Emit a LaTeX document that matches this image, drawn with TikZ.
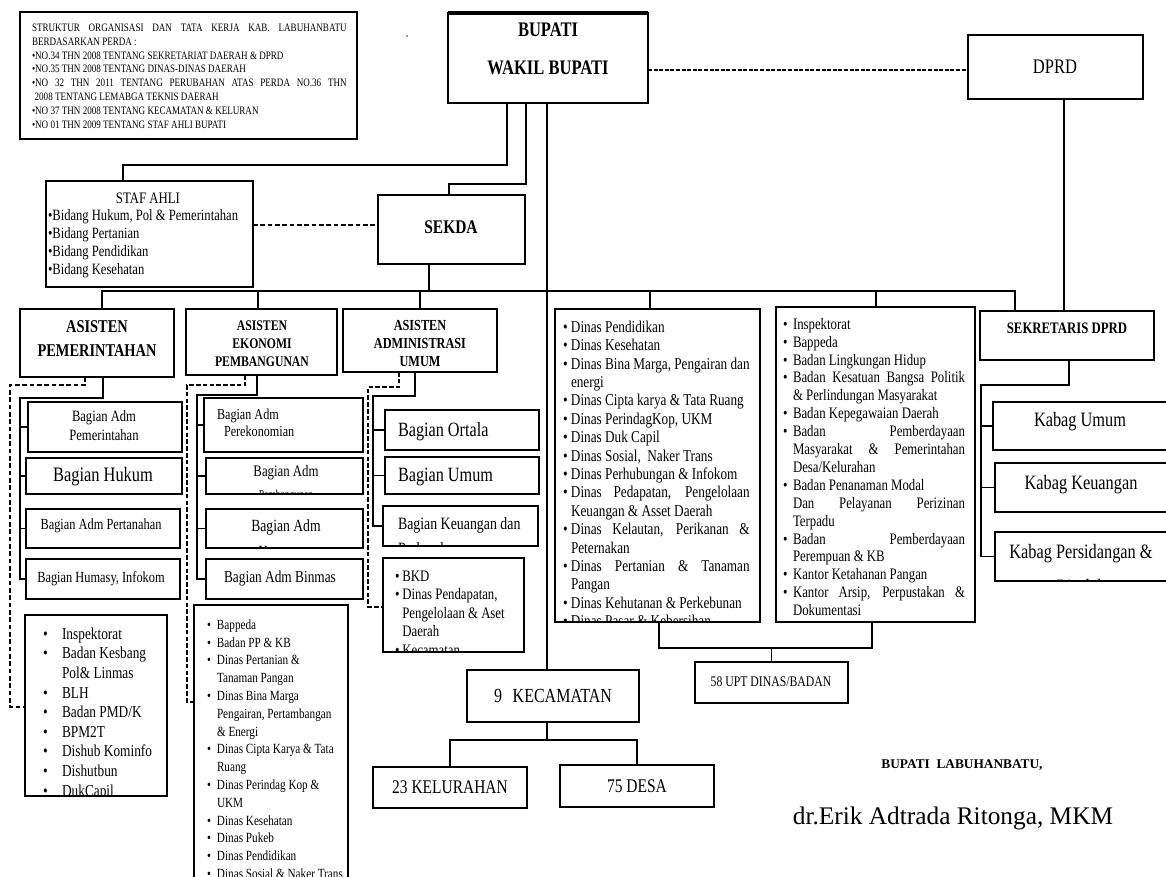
\documentclass[tikz,border=0pt]{standalone}
\usepackage{fontspec}
\setmainfont{Liberation Serif}
\newfontfamily\cond[FakeStretch=0.8]{Liberation Serif}
\newcommand\fs[2]{\fontsize{#1}{#2}\selectfont}
\newlength\lind
\newlength\lwd
\newcommand\bi[1]{\makebox[\lind][l]{•}#1}
\newcommand\ci[1]{\hspace*{\lind}#1}
\newcommand\js[1]{\makebox[\lwd][s]{#1}}
\newcommand\bxx[5]{\node[bx, minimum width={(#4-#2)*0.75pt}, minimum height={(#5-#3)*0.75pt}] (#1) at (#2,#3) {};}
\newcommand\lstn[6]{\foreach \ltxt [count=\ii from 0] in {#6} {\node[lst, font={#5}] (#1\ii) at (#2,{#3+\ii*#4}) {\ltxt};}}
\begin{document}
\begin{tikzpicture}[x=0.75pt,y=-0.75pt,
  bx/.style={draw, line width=1pt, inner sep=0pt, outer sep=0pt, anchor=north west},
  ln/.style={line width=1pt},
  dsh/.style={line width=1pt, dash pattern=on 3.5pt off 2pt},
  dshb/.style={line width=1.7pt, dash pattern=on 3.5pt off 1.6pt},
  dotln/.style={line width=2pt, dash pattern=on 3pt off 1.2pt},
  lbl/.style={inner sep=0pt, outer sep=0pt, anchor=mid, yshift=-2.4pt},
  lst/.style={inner sep=0pt, outer sep=0pt, anchor=mid west, yshift=-2.4pt},
]
\path[use as bounding box, fill=white] (0,0) rectangle (1166,877);

% ---------- boxes ----------
\bxx{legend}{20}{12}{357}{139}
\bxx{bupati}{448}{13}{648}{103}
\bxx{dprd}{968}{35}{1143}{99}
\bxx{staf}{46}{181}{253}{287}
\bxx{sekda}{378}{195}{525}{264}
\bxx{asp}{20}{309}{174}{377}
\bxx{asek}{186}{309}{337}{375}
\bxx{aadm}{343}{309}{497}{372}
\bxx{dinas}{555}{309}{760}{622}
\bxx{badan}{776}{307}{975}{622}
\bxx{sekdprd}{980}{311}{1154}{360}
\bxx{bap}{28}{402}{182}{452}
\bxx{bhk}{26}{458}{182}{494}
\bxx{bpt}{26}{509}{180}{548}
\bxx{bhum}{26}{559}{180}{599}
\bxx{bpk}{204}{398}{363}{452}
\bxx{bpb}{206}{458}{363}{494}
\bxx{bku}{206}{509}{363}{548}
\bxx{bbin}{206}{559}{363}{599}
\bxx{bort}{385}{410}{539}{450}
\bxx{bumu}{385}{457}{539}{494}
\bxx{bkeu}{383}{506}{538}{546}
\bxx{bkd}{383}{558}{524}{652}
\bxx{lsta}{25}{615}{167}{796}
\bxx{lstb}{194}{605}{348}{900}
\bxx{kumum}{993}{402}{1175}{450}
\bxx{kkeu}{995}{463}{1175}{512}
\bxx{kper}{995}{532}{1175}{581}
\bxx{upt}{695}{662}{848}{703}
\bxx{kec}{467}{670}{639}{722}
\bxx{kel}{373}{767}{527}{808}
\bxx{desa}{560}{765}{714}{807}
\draw[line width=2.4pt] (bupati.north west) -- (bupati.north east);
\fill[gray] (407,36) circle[radius=1.2];

% ---------- connectors ----------
\coordinate (a1) at (507,165); \coordinate (a2) at (123,165);
\draw[ln] (bupati.south -| a1) -- (a1) -- (a2) -- (staf.north -| a2);
\coordinate (b1) at (526,184); \coordinate (b2) at (449,184);
\draw[ln] (bupati.south -| b1) -- (b1) -- (b2) -- (sekda.north -| b2);
\coordinate (tr) at (547,0);
\draw[ln] (bupati.south -| tr) -- (kec.north -| tr);
\coordinate (d1) at (0,70);
\draw[dotln] (bupati.east |- d1) -- (dprd.west |- d1);
\coordinate (e1) at (1064,0);
\draw[ln] (dprd.south -| e1) -- (sekdprd.north -| e1);
\coordinate (f1) at (0,225);
\draw[dsh] (staf.east |- f1) -- (sekda.west |- f1);
\coordinate (g1) at (429,291);
\draw[ln] (sekda.south -| g1) -- (g1);
\coordinate (h0) at (102,291); \coordinate (h1) at (1015,291);
\draw[ln] (asp.north -| h0) -- (h0) -- (h1) -- (sekdprd.north -| h1);
\coordinate (hB) at (258,291); \coordinate (hC) at (420,291);
\coordinate (hD) at (650,291); \coordinate (hE) at (876,291);
\draw[ln] (hB) -- (asek.north -| hB);
\draw[ln] (hC) -- (aadm.north -| hC);
\draw[ln] (hD) -- (dinas.north -| hD);
\draw[ln] (hE) -- (badan.north -| hE);
% asisten pemerintahan
\coordinate (p1) at (103,398); \coordinate (p2) at (20,398);
\coordinate (p3) at (p2 |- bhum.west);
\draw[ln] (asp.south -| p1) -- (p1) -- (p2) -- (p3) -- (bhum.west);
\draw[ln] (p2 |- bap.west) -- (bap.west);
\draw[ln] (p2 |- bhk.west) -- (bhk.west);
\draw[ln] (p2 |- bpt.west) -- (bpt.west);
\coordinate (q1) at (85,385); \coordinate (q2) at (10,385); \coordinate (q3) at (10,707);
\draw[dsh] (asp.south -| q1) -- (q1) -- (q2) -- (q3) -- (lsta.west |- q3);
% asisten ekonomi
\coordinate (r1) at (257,395); \coordinate (r2) at (197,395);
\coordinate (r3) at (r2 |- bbin.west);
\draw[ln] (asek.south -| r1) -- (r1) -- (r2) -- (r3) -- (bbin.west);
\draw[ln] (r2 |- bpk.west) -- (bpk.west);
\draw[ln] (r2 |- bpb.west) -- (bpb.west);
\draw[ln] (r2 |- bku.west) -- (bku.west);
\coordinate (s1) at (245,385); \coordinate (s2) at (187,385); \coordinate (s3) at (187,702);
\draw[dshb] (asek.south -| s1) -- (s1) -- (s2) -- (s3) -- (lstb.west |- s3);
% asisten administrasi
\coordinate (u1) at (415,396); \coordinate (u2) at (373,396);
\coordinate (u3) at (u2 |- bkeu.west);
\draw[ln] (aadm.south -| u1) -- (u1) -- (u2) -- (u3) -- (bkeu.west);
\draw[ln] (u2 |- bort.west) -- (bort.west);
\draw[ln] (u2 |- bumu.west) -- (bumu.west);
\coordinate (v1) at (399,387); \coordinate (v2) at (368,387); \coordinate (v3) at (368,607);
\draw[dshb] (aadm.south -| v1) -- (v1) -- (v2) -- (v3) -- (bkd.west |- v3);
% dinas / badan -> UPT
\coordinate (w1) at (659,648); \coordinate (w2) at (872,648);
\draw[ln] (dinas.south -| w1) -- (w1) -- (w2) -- (badan.south -| w2);
\draw[ln] (upt.north) -- (upt.north |- w1);
% kecamatan
\coordinate (kc) at (547,740);
\draw[ln] (kec.south -| tr) -- (kc);
\draw[ln] (kel.north) -- (kel.north |- kc) -- (desa.north |- kc) -- (desa.north);
% sekretaris dprd
\coordinate (x1) at (1069,385); \coordinate (x2) at (981,385);
\coordinate (x3) at (x2 |- kper.west);
\draw[ln] (sekdprd.south -| x1) -- (x1) -- (x2) -- (x3) -- (kper.west);
\draw[ln] (x2 |- kumum.west) -- (kumum.west);
\draw[ln] (x2 |- kkeu.west) -- (kkeu.west);

% ---------- texts ----------
\lstn{lg}{32}{25}{13.9}{\cond\fs{8.5}{10}\setlength\lwd{236pt}}{%
 {\js{STRUKTUR ORGANISASI DAN TATA KERJA KAB. LABUHANBATU}},%
 {BERDASARKAN PERDA :},%
 {•NO.34 THN 2008 TENTANG SEKRETARIAT DAERAH \& DPRD},%
 {•NO.35 THN 2008 TENTANG DINAS-DINAS DAERAH},%
 {\js{•NO 32 THN 2011 TENTANG PERUBAHAN ATAS PERDA NO.36 THN}},%
 {\hspace*{2pt}2008 TENTANG LEMABGA TEKNIS DAERAH},%
 {•NO 37 THN 2008 TENTANG KECAMATAN \& KELURAN},%
 {•NO 01 THN 2009 TENTANG STAF AHLI BUPATI}}

\node[lbl, font=\cond\bfseries\fs{15.5}{18}] (tBup) at (548,30) {BUPATI};
\node[lbl, font=\cond\bfseries\fs{15.5}{18}] (tWak) at (548,68) {WAKIL BUPATI};
\node[lbl, font=\cond\fs{15.5}{18}] (tDprd) at (1055,67) {DPRD};
\node[lbl, font=\cond\fs{12}{14}] (tStaf) at (148,197) {STAF AHLI};
\lstn{sa}{48}{214.5}{17.9}{\cond\fs{11.8}{14}}{%
 {•Bidang Hukum, Pol \& Pemerintahan},{•Bidang Pertanian},{•Bidang Pendidikan},{•Bidang Kesehatan}}
\node[lbl, font=\cond\bfseries\fs{14.5}{17}] (tSek) at (451,227) {SEKDA};

\node[lbl, font=\cond\bfseries\fs{13.5}{16}] (tAp1) at (97,326) {ASISTEN};
\node[lbl, font=\cond\bfseries\fs{13.5}{16}] (tAp2) at (97,350) {PEMERINTAHAN};
\node[lbl, font=\cond\bfseries\fs{11}{13}] (tAe1) at (262,324) {ASISTEN};
\node[lbl, font=\cond\bfseries\fs{11}{13}] (tAe2) at (262,342) {EKONOMI};
\node[lbl, font=\cond\bfseries\fs{11}{13}] (tAe3) at (262,360) {PEMBANGUNAN};
\node[lbl, font=\cond\bfseries\fs{11.5}{13}] (tAa1) at (420,324) {ASISTEN};
\node[lbl, font=\cond\bfseries\fs{11.5}{13}] (tAa2) at (420,342) {ADMINISTRASI};
\node[lbl, font=\cond\bfseries\fs{11.5}{13}] (tAa3) at (420,360) {UMUM};
\node[lbl, font=\cond\bfseries\fs{12}{14}] (tSd) at (1067,327) {SEKRETARIS DPRD};

% pemerintahan bagian
\node[lbl, font=\cond\fs{11.8}{14}] (tBap1) at (104,415) {Bagian Adm};
\node[lbl, font=\cond\fs{11.8}{14}] (tBap2) at (104,434) {Pemerintahan};
\node[lbl, font=\cond\fs{15.4}{18}] (tBhk) at (103,475) {Bagian Hukum};
\node[lbl, font=\cond\fs{11.6}{14}] (tBpt) at (101,523) {Bagian Adm Pertanahan};
\node[lbl, font=\cond\fs{11.6}{14}] (tBhum) at (101,576) {Bagian Humasy, Infokom};

% ekonomi bagian
\node[lst, font=\cond\fs{11.4}{14}] (tBpk1) at (217,413) {Bagian Adm};
\node[lst, font=\cond\fs{11.4}{14}] (tBpk2) at (224,430) {Perekonomian};
\node[lbl, font=\cond\fs{12}{14}] (tBpb1) at (286,470) {Bagian Adm};
\begin{scope}
\clip (bpb.north west) rectangle (bpb.south east);
\node[lbl, font=\cond\fs{9}{11}] (tBpb2) at (286,492) {Pembangunan};
\end{scope}
\node[lbl, font=\cond\fs{12.8}{15}] (tBku1) at (286,525) {Bagian Adm};
\begin{scope}
\clip (bku.north west) rectangle (bku.south east);
\node[lbl, font=\cond\fs{12.8}{15}] (tBku2) at (286,551) {Keuangan};
\end{scope}
\node[lbl, font=\cond\fs{12.5}{15}] (tBbin) at (280,576) {Bagian Adm Binmas};

% administrasi bagian
\node[lst, font=\cond\fs{15.2}{18}] (tBort) at (398,430) {Bagian Ortala};
\node[lst, font=\cond\fs{15.2}{18}] (tBumu) at (398,475) {Bagian Umum};
\node[lst, font=\cond\fs{13}{15}] (tBkeu1) at (398,523) {Bagian Keuangan dan};
\begin{scope}
\clip (bkeu.north west) rectangle (bkeu.south east);
\node[lst, font=\cond\fs{13}{15}] (tBkeu2) at (398,548) {Perlengkapan};
\end{scope}
\begin{scope}
\clip (bkd.north west) rectangle (bkd.south east);
\lstn{bk}{395}{575}{18.5}{\cond\fs{12}{14}\setlength\lind{5.5pt}}{%
 {\bi{BKD}},{\bi{Dinas Pendapatan,}},{\ci{Pengelolaan \& Aset}},{\ci{Daerah}},{\bi{Kecamatan}}}
\end{scope}

% list 1
\begin{scope}
\clip (lsta.north west) rectangle (lsta.south east);
\lstn{la}{43}{633}{19.6}{\cond\fs{12.5}{15}\setlength\lind{14.3pt}}{%
 {\bi{Inspektorat}},{\bi{Badan Kesbang}},{\ci{Pol\& Linmas}},{\bi{BLH}},{\bi{Badan PMD/K}},%
 {\bi{BPM2T}},{\bi{Dishub Kominfo}},{\bi{Dishutbun}},{\bi{DukCapil}}}
\end{scope}

% list 2
\begin{scope}
\clip (lstb.north west) rectangle (lstb.south east);
\lstn{lb}{207}{623}{17.8}{\cond\fs{10.5}{12}\setlength\lind{7.5pt}}{%
 {\bi{Bappeda}},{\bi{Badan PP \& KB}},{\bi{Dinas Pertanian \&}},{\ci{Tanaman Pangan}},%
 {\bi{Dinas Bina Marga}},{\ci{Pengairan, Pertambangan}},{\ci{\& Energi}},%
 {\bi{Dinas Cipta Karya \& Tata}},{\ci{Ruang}},{\bi{Dinas Perindag Kop \&}},{\ci{UKM}},%
 {\bi{Dinas Kesehatan}},{\bi{Dinas Pukeb}},{\bi{Dinas Pendidikan}},{\bi{Dinas Sosial \& Naker Trans}}}
\end{scope}

% dinas list
\begin{scope}
\clip (dinas.north west) rectangle (dinas.south east);
\lstn{ld}{563}{326}{18.4}{\cond\fs{12.4}{14}\setlength\lind{6pt}\setlength\lwd{134pt}}{%
 {\bi{Dinas Pendidikan}},{\bi{Dinas Kesehatan}},{\bi{\js{Dinas Bina Marga, Pengairan dan}}},%
 {\ci{energi}},{\bi{Dinas Cipta karya \& Tata Ruang}},{\bi{Dinas PerindagKop, UKM}},%
 {\bi{Dinas Duk Capil}},{\bi{Dinas Sosial,\ \ Naker Trans}},{\bi{Dinas Perhubungan \& Infokom}},%
 {\bi{\js{Dinas Pedapatan, Pengelolaan}}},{\ci{Keuangan \& Asset Daerah}},%
 {\bi{\js{Dinas Kelautan, Perikanan \&}}},{\ci{Peternakan}},%
 {\bi{\js{Dinas Pertanian \& Tanaman}}},{\ci{Pangan}},%
 {\bi{Dinas Kehutanan \& Perkebunan}},{\bi{Dinas Pasar \& Kebersihan}}}
\end{scope}

% badan list
\lstn{lr}{783}{323}{17.9}{\cond\fs{12}{14}\setlength\lind{7.5pt}\setlength\lwd{129pt}}{%
 {\bi{Inspektorat}},{\bi{Bappeda}},{\bi{Badan Lingkungan Hidup}},%
 {\bi{\js{Badan Kesatuan Bangsa Politik}}},{\ci{\& Perlindungan Masyarakat}},%
 {\bi{Badan Kepegawaian Daerah}},{\bi{\js{Badan Pemberdayaan}}},%
 {\ci{\js{Masyarakat \& Pemerintahan}}},{\ci{Desa/Kelurahan}},%
 {\bi{Badan Penanaman Modal}},{\ci{\js{Dan Pelayanan Perizinan}}},{\ci{Terpadu}},%
 {\bi{\js{Badan Pemberdayaan}}},{\ci{Perempuan \& KB}},{\bi{Kantor Ketahanan Pangan}},%
 {\bi{\js{Kantor Arsip, Perpustakan \&}}},{\ci{Dokumentasi}}}

% kabag
\node[lbl, font=\cond\fs{15.3}{18}] (tKu) at (1080,420) {Kabag Umum};
\node[lbl, font=\cond\fs{15.3}{18}] (tKk) at (1081,483) {Kabag Keuangan};
\begin{scope}
\clip (kper.north west) rectangle (kper.south east);
\node[lbl, font=\cond\fs{15.3}{18}] (tKp1) at (1081,552) {Kabag Persidangan \&};
\node[lbl, font=\cond\fs{15.3}{18}] (tKp2) at (1081,587) {Risalah};
\end{scope}

\node[lbl, font=\cond\fs{11}{13}] (tUpt) at (771,680) {58 UPT DINAS/BADAN};
\node[lbl, font=\cond\fs{15}{18}] (tKec) at (553,696) {9\hspace{8pt}KECAMATAN};
\node[lbl, font=\cond\fs{14.5}{17}] (tKel) at (450,787) {23 KELURAHAN};
\node[lbl, font=\cond\fs{14.5}{17}] (tDesa) at (637,786) {75 DESA};

\node[lbl, font=\bfseries\fs{10}{12}] (sig1) at (962,762) {BUPATI\ \ LABUHANBATU,};
\node[lbl, font=\fs{19}{22}] (sig2) at (953,818) {dr.Erik Adtrada Ritonga, MKM};
\end{tikzpicture}
\end{document}
